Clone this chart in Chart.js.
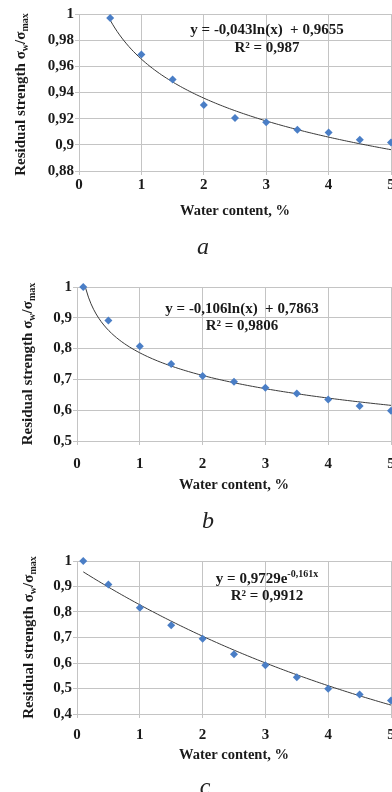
<!DOCTYPE html>
<html>
<head>
<meta charset="utf-8">
<script src="https://cdn.jsdelivr.net/npm/chart.js@4"></script>
<style>
  body { margin: 0; width: 392px; height: 792px; overflow: hidden; background: #fff; position: relative; }
  canvas { position: absolute; left: 0; }
  .cap { position: absolute; font: italic 24px "Liberation Serif", serif; color: #222; transform: translate(-50%, -50%); }
</style>
</head>
<body>
<canvas id="chartA" width="395" height="260" style="top:0px"></canvas>
<canvas id="chartB" width="395" height="260" style="top:270px"></canvas>
<canvas id="chartC" width="395" height="260" style="top:530px"></canvas>
<div class="cap" style="left:203px; top:246px">a</div>
<div class="cap" style="left:208px; top:520px">b</div>
<div class="cap" style="left:205px; top:786px">c</div>
<script>
// panel a
var waterA = [0.5, 1, 1.5, 2, 2.5, 3, 3.5, 4, 4.5, 5];
var strengthA = [0.997, 0.969, 0.950, 0.9305, 0.9206, 0.9173, 0.9115, 0.9094, 0.9038, 0.9018];
var yTicksA = [0.88, 1, 0.02];
var trendA = [-0.043, 0.9655]; // y = a*ln(x) + b

// panel b
var waterB = [0.1, 0.5, 1, 1.5, 2, 2.5, 3, 3.5, 4, 4.5, 5];
var strengthB = [1.0, 0.8915, 0.808, 0.750, 0.711, 0.6925, 0.673, 0.6544, 0.635, 0.614, 0.598];
var yTicksB = [0.5, 1, 0.1];
var trendB = [-0.106, 0.7863];

// panel c
var waterC = [0.1, 0.5, 1, 1.5, 2, 2.5, 3, 3.5, 4, 4.5, 5];
var strengthC = [1.0, 0.908, 0.817, 0.7485, 0.695, 0.634, 0.5907, 0.544, 0.499, 0.4765, 0.453];
var yTicksC = [0.4, 1, 0.1];
var trendC = [0.9729, -0.161]; // y = a*exp(b*x)

var xTicks = [0, 5, 1];

var FONT = '"Liberation Serif", "Times New Roman", serif';
var TEXT = '#1a1a1a';
var GRID = '#c4c4c4';
var BLUE = '#4a7ec6';

function trendPoints(kind, coef, x0, x1) {
    var pts = [];
    for (var i = 0; i <= 120; i++) {
        var x = x0 + (x1 - x0) * i / 120;
        var y = kind === 'log' ? coef[0] * Math.log(x) + coef[1] : coef[0] * Math.exp(coef[1] * x);
        pts.push({x: x, y: y});
    }
    return pts;
}

function comma(v) {
    return String(Math.round(v * 100) / 100).replace('.', ',');
}

// draws text pieces with sub/superscripts, centred on x
function drawRich(ctx, parts, x, y, size) {
    var big = 'bold ' + size + 'px ' + FONT, small = 'bold ' + Math.round(size * 0.65) + 'px ' + FONT;
    var total = 0;
    parts.forEach(function (p) {
        ctx.font = p.sub || p.sup ? small : big;
        p.w = ctx.measureText(p.t).width;
        total += p.w;
    });
    var cx = x - total / 2;
    ctx.textBaseline = 'alphabetic';
    ctx.textAlign = 'left';
    ctx.fillStyle = TEXT;
    parts.forEach(function (p) {
        ctx.font = p.sub || p.sup ? small : big;
        var dy = p.sub ? 3 : (p.sup ? -6 : 0);
        ctx.fillText(p.t, cx, y + size * 0.33 + dy);
        cx += p.w;
    });
}

var yTitle = [{t: 'Residual strength σ'}, {t: 'w', sub: true}, {t: '/σ'}, {t: 'max', sub: true}];

var panelText = {
    id: 'panelText',
    afterDraw: function (chart, args, opts) {
        var ctx = chart.ctx, a = chart.chartArea;
        ctx.save();
        ctx.translate(opts.yTitleX, (a.top + a.bottom) / 2 + opts.yTitleShift);
        ctx.rotate(-Math.PI / 2);
        drawRich(ctx, yTitle, 0, 0, 15);
        ctx.restore();
        ctx.save();
        opts.lines.forEach(function (l) { drawRich(ctx, l.parts, l.x, l.y, 15); });
        ctx.restore();
    }
};

function makeChart(id, water, strength, yTicks, trend, p) {
    var ctx = document.getElementById(id).getContext('2d');
    return new Chart(ctx, {
        type: 'scatter',
        data: {
            datasets: [{
                data: water.map(function (w, i) { return {x: w, y: strength[i]}; }),
                pointStyle: 'rectRot',
                pointRadius: 4,
                pointBorderWidth: 0,
                backgroundColor: BLUE,
                borderColor: BLUE,
                clip: false,
                order: 0
            }, {
                type: 'line',
                data: trend,
                borderColor: '#3a3a3a',
                borderWidth: 1,
                pointRadius: 0,
                tension: 0,
                clip: 0,
                order: 1
            }]
        },
        options: {
            responsive: false,
            animation: false,
            devicePixelRatio: 1,
            layout: {padding: {top: p.areaTop, right: 0, left: 0, bottom: 0}},
            plugins: {
                legend: {display: false},
                tooltip: {enabled: false},
                panelText: {yTitleX: p.yTitleX, yTitleShift: p.yTitleShift, lines: p.lines}
            },
            scales: {
                x: {
                    type: 'linear',
                    min: xTicks[0], max: xTicks[1],
                    ticks: {stepSize: xTicks[2], color: TEXT, padding: p.xTickPad, font: {family: FONT, size: 15, weight: 'bold'}, maxRotation: 0},
                    grid: {color: GRID, tickLength: 4, lineWidth: 1},
                    border: {color: GRID},
                    title: {display: true, text: 'Water content, %', color: TEXT, font: {family: FONT, size: 14.5, weight: 'bold'}, padding: {top: 0, bottom: p.xTitlePad}},
                    afterFit: function (s) { s.height = 260 - p.areaBottom; s.paddingLeft = 0; s.paddingRight = 0; }
                },
                y: {
                    min: yTicks[0], max: yTicks[1],
                    ticks: {stepSize: yTicks[2], color: TEXT, padding: 1, font: {family: FONT, size: 15, weight: 'bold'}, callback: function (v) { return comma(v); }},
                    grid: {color: GRID, tickLength: 4, lineWidth: 1},
                    border: {color: GRID},
                    afterFit: function (s) { s.width = p.areaLeft; }
                }
            }
        },
        plugins: [panelText]
    });
}

document.addEventListener('DOMContentLoaded', function () {
    makeChart('chartA', waterA, strengthA, yTicksA, trendPoints('log', trendA, 0.5, 5), {
        areaTop: 14, areaBottom: 171, areaLeft: 79, xTickPad: 1, xTitlePad: 40, yTitleX: 20, yTitleShift: 2,
        lines: [
            {parts: [{t: 'y = -0,043ln(x)  + 0,9655'}], x: 267, y: 29},
            {parts: [{t: 'R² = 0,987'}], x: 267, y: 47}
        ]
    });
    makeChart('chartB', waterB, strengthB, yTicksB, trendPoints('log', trendB, 0.1, 5), {
        areaTop: 17, areaBottom: 171, areaLeft: 77, xTickPad: 10, xTitlePad: 36, yTitleX: 27, yTitleShift: 0,
        lines: [
            {parts: [{t: 'y = -0,106ln(x)  + 0,7863'}], x: 242, y: 38},
            {parts: [{t: 'R² = 0,9806'}], x: 242, y: 55}
        ]
    });
    makeChart('chartC', waterC, strengthC, yTicksC, trendPoints('exp', trendC, 0.1, 5), {
        areaTop: 31, areaBottom: 184, areaLeft: 77, xTickPad: 8, xTitlePad: 26, yTitleX: 28, yTitleShift: 0,
        lines: [
            {parts: [{t: 'y = 0,9729e'}, {t: '-0,161x', sup: true}], x: 267, y: 48},
            {parts: [{t: 'R² = 0,9912'}], x: 267, y: 65}
        ]
    });
});
</script>
</body>
</html>
